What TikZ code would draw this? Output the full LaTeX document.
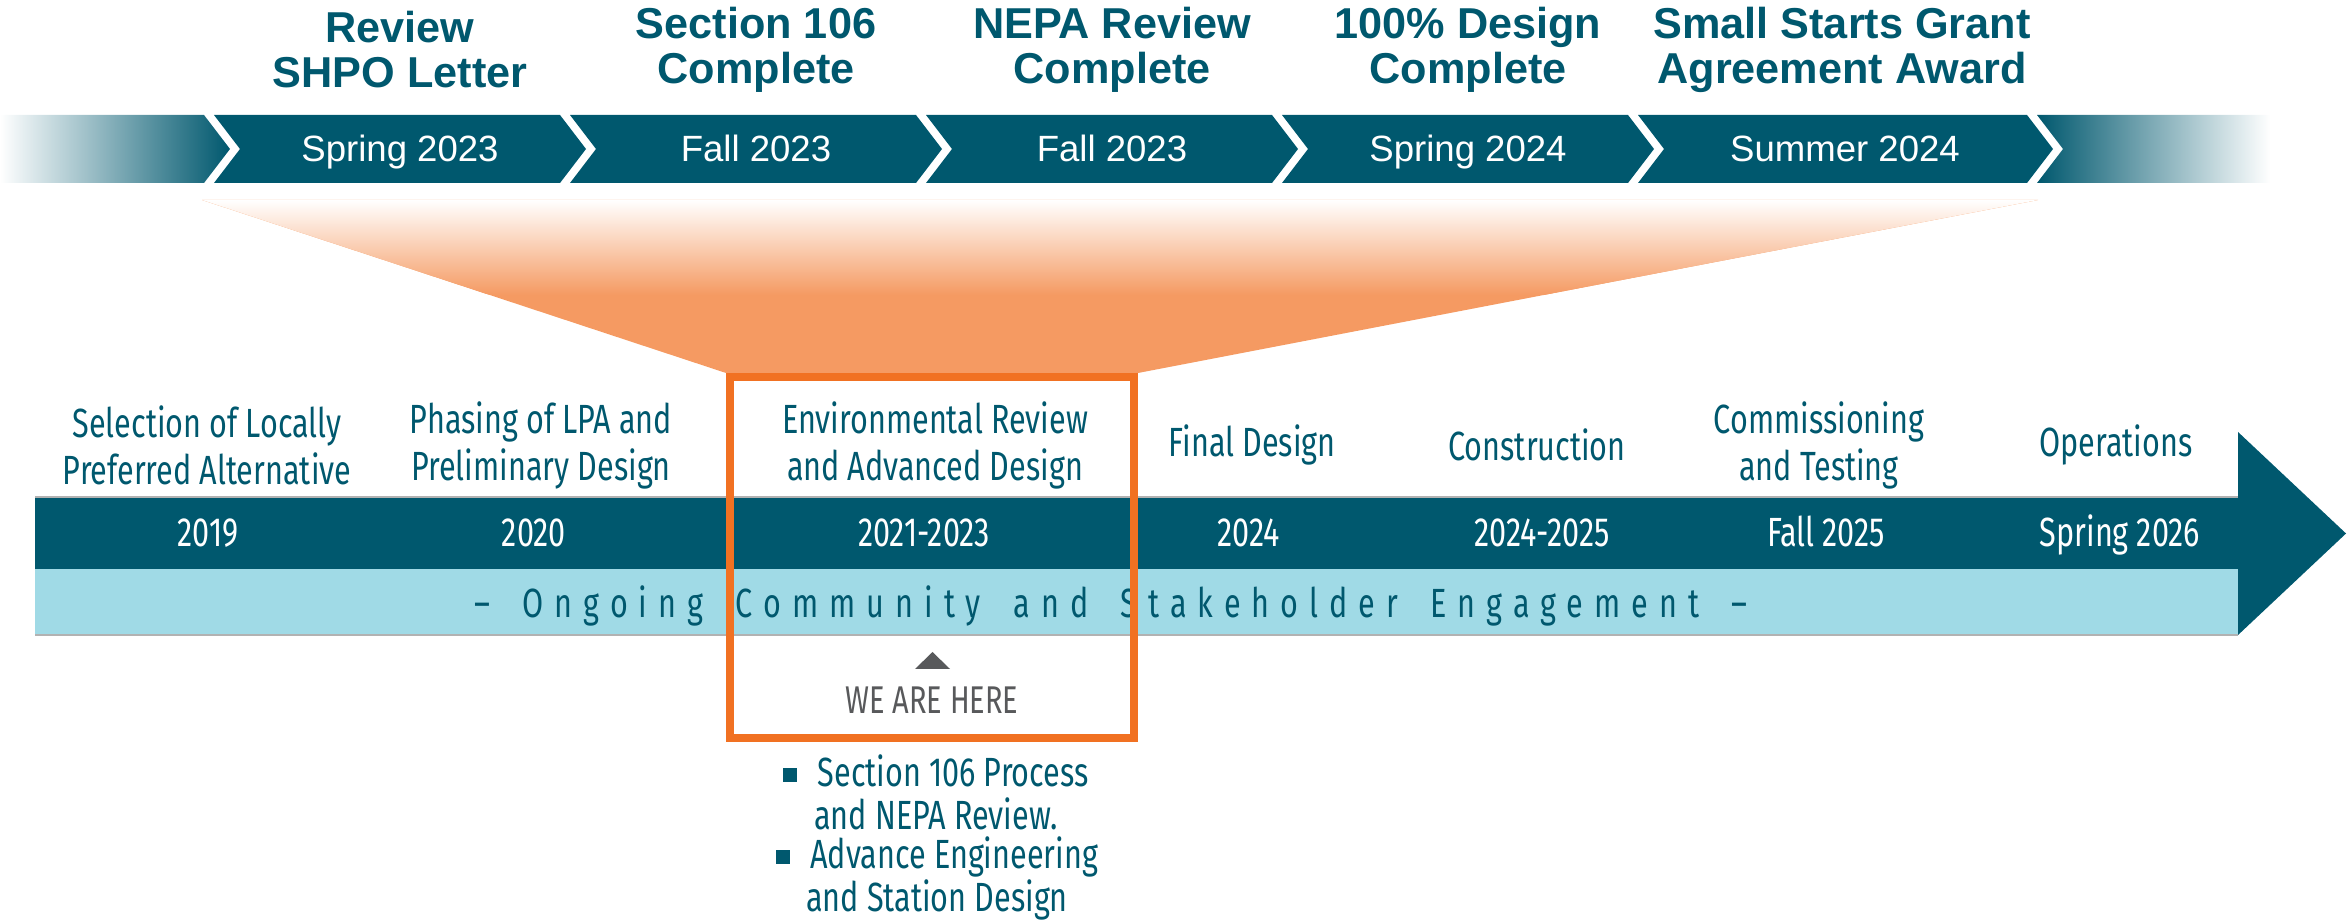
\documentclass[tikz,border=0pt]{standalone}
\usepackage{fontspec}
\setmainfont{Liberation Sans}
\newfontfamily\condfont[FakeStretch=0.75]{Fira Sans}
\newfontfamily\trackfont[FakeStretch=0.75, LetterSpace=27, WordSpace=1.7]{Fira Sans}

\definecolor{deepteal}{RGB}{0,88,110}
\definecolor{paleteal}{RGB}{160,218,230}
\definecolor{funnelorange}{RGB}{245,154,98}
\definecolor{boxorange}{RGB}{241,113,34}
\definecolor{heregrey}{RGB}{88,89,91}

\begin{document}
\begin{tikzpicture}
\useasboundingbox (0, 0) rectangle (23.48, -9.22);

% funnel from the milestone bar down to the current phase
\fill[funnelorange] (2.02, -2.00) -- (20.38, -2.00) -- (11.38, -3.73) -- (7.26, -3.73) -- cycle;
\begin{scope}
    \clip (2.02, -2.00) -- (20.38, -2.00) -- (11.38, -3.73) -- (7.26, -3.73) -- cycle;
    \shade[top color=white, bottom color=funnelorange] (0, -2.00) rectangle (23.48, -2.95);
\end{scope}

% milestone bar
\shade[left color=white, right color=deepteal] (0, -1.15) -- (2.04, -1.15) -- (2.30, -1.49) -- (2.04, -1.83) -- (0, -1.83) -- cycle;
\fill[deepteal] (2.14, -1.15) -- (5.60, -1.15) -- (5.86, -1.49) -- (5.60, -1.83) -- (2.14, -1.83) -- (2.40, -1.49) -- cycle;
\fill[deepteal] (5.70, -1.15) -- (9.16, -1.15) -- (9.42, -1.49) -- (9.16, -1.83) -- (5.70, -1.83) -- (5.96, -1.49) -- cycle;
\fill[deepteal] (9.26, -1.15) -- (12.72, -1.15) -- (12.98, -1.49) -- (12.72, -1.83) -- (9.26, -1.83) -- (9.52, -1.49) -- cycle;
\fill[deepteal] (12.82, -1.15) -- (16.28, -1.15) -- (16.54, -1.49) -- (16.28, -1.83) -- (12.82, -1.83) -- (13.08, -1.49) -- cycle;
\fill[deepteal] (16.38, -1.15) -- (20.27, -1.15) -- (20.53, -1.49) -- (20.27, -1.83) -- (16.38, -1.83) -- (16.64, -1.49) -- cycle;
\shade[left color=deepteal, right color=white] (20.37, -1.15) -- (22.70, -1.15) -- (22.70, -1.83) -- (20.37, -1.83) -- (20.63, -1.49) -- cycle;

\begin{scope}[every node/.style={inner sep=0pt, align=center, text=deepteal, font=\bfseries\fontsize{12.3}{12.8}\selectfont}]
    \node (shpo) at (4.00, -0.50) {Review\\SHPO Letter};
    \node (sec106) at (7.56, -0.50) {Section 106\\Complete};
    \node (nepa) at (11.12, -0.50) {NEPA Review\\Complete};
    \node (design) at (14.68, -0.50) {100\% Design\\Complete};
    \node (grant) at (18.42, -0.50) {Small Starts Grant\\Agreement Award};
\end{scope}

\begin{scope}[every node/.style={inner sep=0pt, anchor=base, text=white, font=\fontsize{10.4}{12}\selectfont}]
    \node (spring23) at (4.00, -1.62) {Spring 2023};
    \node (fall23a) at (7.56, -1.62) {Fall 2023};
    \node (fall23b) at (11.12, -1.62) {Fall 2023};
    \node (spring24) at (14.68, -1.62) {Spring 2024};
    \node (summer24) at (18.45, -1.62) {Summer 2024};
\end{scope}

% project timeline
\fill[deepteal] (0.35, -4.97) rectangle (22.38, -5.69);
\fill[paleteal] (0.35, -5.69) rectangle (22.38, -6.35);
\fill[deepteal] (22.38, -4.32) -- (23.46, -5.335) -- (22.38, -6.35) -- cycle;
\draw[black!30, line width=0.4pt] (0.35, -4.97) -- (22.38, -4.97);
\draw[black!30, line width=0.4pt] (0.35, -6.35) -- (22.38, -6.35);

\begin{scope}[every node/.style={inner sep=0pt, align=center, text=deepteal, font=\condfont\fontsize{11.6}{13.4}\selectfont}]
    \node (lpa) at (2.07, -4.45) {Selection of Locally\\Preferred Alternative};
    \node (prelim) at (5.41, -4.45) {Phasing of LPA and\\Preliminary Design};
    \node (envrev) at (9.35, -4.45) {Environmental Review\\and Advanced Design};
    \node (final) at (12.52, -4.45) {Final Design};
    \node (build) at (15.37, -4.45) {Construction};
    \node (testing) at (18.19, -4.45) {Commissioning\\and Testing};
    \node (ops) at (21.16, -4.45) {Operations};
\end{scope}

\begin{scope}[every node/.style={inner sep=0pt, anchor=base, text=white, font=\condfont\fontsize{11.6}{13.4}\selectfont}]
    \node (y2019) at (2.08, -5.47) {2019};
    \node (y2020) at (5.34, -5.47) {2020};
    \node (y2021) at (9.24, -5.47) {2021-2023};
    \node (y2024) at (12.49, -5.47) {2024};
    \node (y2025) at (15.42, -5.47) {2024-2025};
    \node (fall25) at (18.26, -5.47) {Fall 2025};
    \node (spring26) at (21.20, -5.47) {Spring 2026};
\end{scope}

\node (outreach) at (11.11, -6.06) [inner sep=0pt, text=deepteal, font=\trackfont\fontsize{11.6}{13.4}\selectfont] {– Ongoing Community and Stakeholder Engagement –};

% current phase
\draw[boxorange, line width=0.08cm] (7.30, -3.77) rectangle (11.34, -7.38);

\fill[heregrey] (9.15, -6.69) -- (9.50, -6.69) -- (9.325, -6.52) -- cycle;
\node (here) at (9.32, -7.00) [inner sep=0pt, text=heregrey, font=\condfont\fontsize{11}{13}\selectfont] {WE ARE HERE};

\begin{scope}[every node/.style={inner sep=0pt, align=center, text=deepteal, font=\condfont\fontsize{11.6}{12.2}\selectfont}]
    \node (sec106task) at (9.36, -7.92) {\rule[0.2ex]{0.65ex}{0.65ex}\hspace{0.5em}Section 106 Process\\and NEPA Review.};
    \node (engtask) at (9.37, -8.78) {\rule[0.2ex]{0.65ex}{0.65ex}\hspace{0.5em}Advance Engineering\\and Station Design};
\end{scope}
\end{tikzpicture}
\end{document}
